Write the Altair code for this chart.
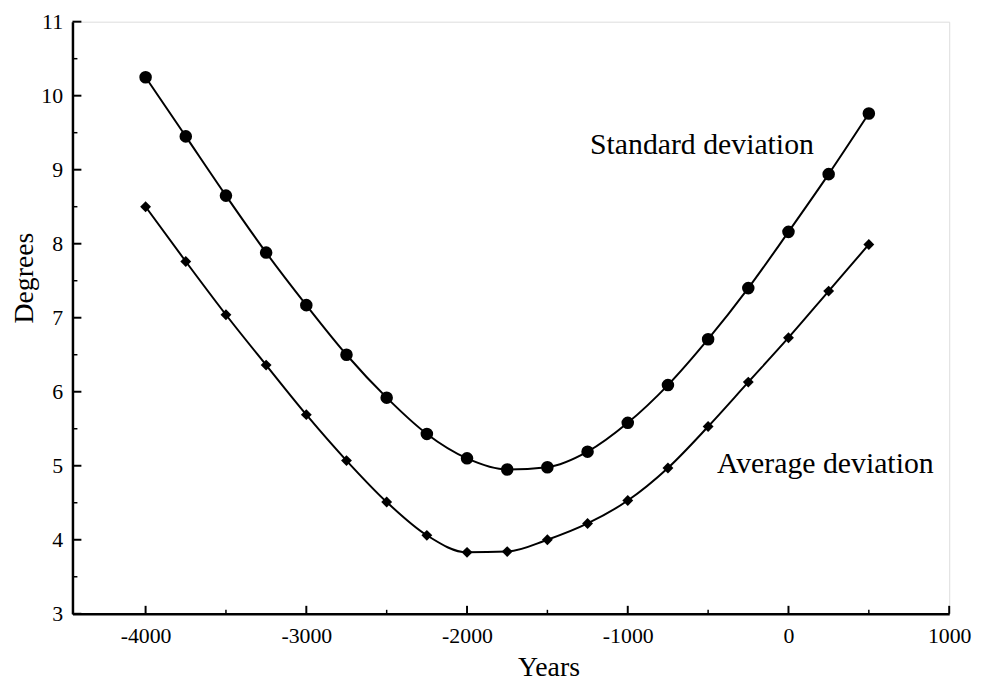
import altair as alt
import pandas as pd

years = [-4000, -3750, -3500, -3250, -3000, -2750, -2500, -2250, -2000, -1750,
         -1500, -1250, -1000, -750, -500, -250, 0, 250, 500]
std_dev = [10.25, 9.45, 8.65, 7.88, 7.17, 6.50, 5.92, 5.43, 5.10, 4.95,
           4.98, 5.19, 5.58, 6.09, 6.71, 7.40, 8.16, 8.94, 9.76]
avg_dev = [8.50, 7.76, 7.04, 6.36, 5.69, 5.07, 4.51, 4.06, 3.83, 3.84,
           4.00, 4.22, 4.53, 4.97, 5.53, 6.13, 6.73, 7.36, 7.99]

label_text = ["Standard deviation", "Average deviation"]
label_x = [-1235, -445]
label_y = [9.21, 4.90]

x_major = [-4000, -3000, -2000, -1000, 0, 1000]
x_minor = [-3500, -2500, -1500, -500, 500]
y_major = [3, 4, 5, 6, 7, 8, 9, 10, 11]
y_minor = [3.5, 4.5, 5.5, 6.5, 7.5, 8.5, 9.5, 10.5]

FONT = "Liberation Serif"
W, H = 884, 597

xs = alt.Scale(domain=[-4455, 1000], nice=False, zero=False)
ys = alt.Scale(domain=[3, 11], nice=False, zero=False)

x_enc = alt.X("year:Q", scale=xs, title="Years",
              axis=alt.Axis(values=x_major, labelExpr="'' + datum.value",
                            titleX=480, titleY=54, titleBaseline="middle"))
y_enc = alt.Y("value:Q", scale=ys, title="Degrees",
              axis=alt.Axis(values=y_major, labelExpr="'' + datum.value",
                            titleX=-48, titleY=258, titleBaseline="middle", titleAngle=-90))

std_df = pd.DataFrame({"year": years, "value": std_dev})
avg_df = pd.DataFrame({"year": years, "value": avg_dev})

std_line = alt.Chart(std_df).mark_line(interpolate="monotone", color="black", strokeWidth=2).encode(x=x_enc, y=y_enc)
std_pts = alt.Chart(std_df).mark_point(shape="circle", filled=True, color="black", size=160, opacity=1).encode(x=x_enc, y=y_enc)
avg_line = alt.Chart(avg_df).mark_line(interpolate="monotone", color="black", strokeWidth=2).encode(x=x_enc, y=y_enc)
avg_pts = alt.Chart(avg_df).mark_point(shape="diamond", filled=True, color="black", size=120, opacity=1).encode(x=x_enc, y=y_enc)

lab_df = pd.DataFrame({"t": label_text, "year": label_x, "value": label_y})
labels = alt.Chart(lab_df).mark_text(font=FONT, fontSize=30, align="left", baseline="alphabetic", color="black").encode(
    x=x_enc, y=y_enc, text="t:N")

# inward ticks
xmaj = alt.Chart(pd.DataFrame({"year": x_major})).mark_rule(color="black", strokeWidth=2).encode(
    x=x_enc, y=alt.value(H), y2=alt.value(H - 8))
xmin = alt.Chart(pd.DataFrame({"year": x_minor})).mark_rule(color="black", strokeWidth=1.5).encode(
    x=x_enc, y=alt.value(H), y2=alt.value(H - 4))
ymaj = alt.Chart(pd.DataFrame({"value": y_major})).mark_rule(color="black", strokeWidth=2).encode(
    y=y_enc, x=alt.value(0), x2=alt.value(9))
ymin = alt.Chart(pd.DataFrame({"value": y_minor})).mark_rule(color="black", strokeWidth=1.5).encode(
    y=y_enc, x=alt.value(0), x2=alt.value(5))

chart = alt.layer(std_line, avg_line, std_pts, avg_pts, labels, xmaj, xmin, ymaj, ymin).properties(
    width=W, height=H,
    autosize=alt.AutoSizeParams(type="none"),
    padding={"left": 65, "top": 11, "right": 24, "bottom": 66},
).configure_view(stroke=None).configure(background="white").configure_axis(
    ticks=False, grid=False, domainWidth=2.5, domainColor="black",
    labelFont=FONT, labelFontSize=22, labelColor="black", labelFlush=False,
    titleFont=FONT, titleFontSize=28, titleFontWeight="normal", titleColor="black",
).configure_axisX(labelPadding=12).configure_axisY(labelPadding=10)

chart.save("out.html", embed_options={"renderer": "svg", "actions": False})
